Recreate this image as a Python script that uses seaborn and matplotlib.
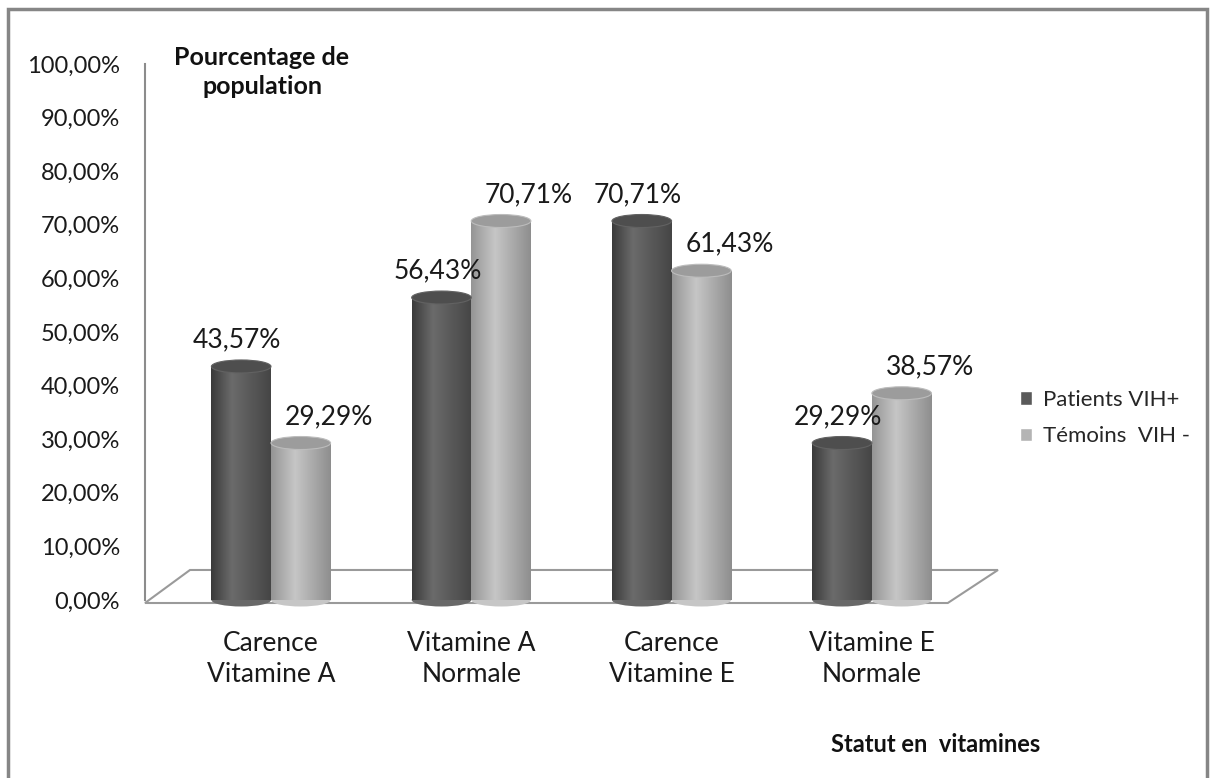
import pandas as pd
import numpy as np
import matplotlib
matplotlib.use("Agg")
import matplotlib.pyplot as plt
from matplotlib.patches import Ellipse, Polygon, Rectangle
from matplotlib.colors import LinearSegmentedColormap
from matplotlib.ticker import FuncFormatter, MultipleLocator
import seaborn as sns

# data
categories = ["Carence\nVitamine A", "Vitamine A\nNormale", "Carence\nVitamine E", "Vitamine E\nNormale"]
patients_vih = [0.4357, 0.5643, 0.7071, 0.2929]
temoins_vih = [0.2929, 0.7071, 0.6143, 0.3857]
series_names = ["Patients VIH+", "Témoins  VIH -"]

df = pd.DataFrame({
    "statut": categories * 2,
    "groupe": [series_names[0]] * 4 + [series_names[1]] * 4,
    "pct": patients_vih + temoins_vih,
})

def pct_fmt(v, pos=None):
    return f"{v * 100:.2f}%".replace(".", ",")

# --------------------------------- PLOTTING --------------------------------- #
sns.set_style("white")
plt.rcParams["font.family"] = ["Lato", "DejaVu Sans"]

fig = plt.figure(figsize=(12.16, 7.78), dpi=100)
ax = fig.add_axes([145 / 1216, 1 - 600 / 778, 815 / 1216, 536 / 778])

palette = {series_names[0]: "#5a5a5a", series_names[1]: "#b4b4b4"}
sns.barplot(data=df, x="statut", y="pct", hue="groupe", palette=palette,
            width=0.595, ax=ax, zorder=2, legend=True)

handles, labels = ax.get_legend_handles_labels()
ax.get_legend().remove()

# cylinder look: gradient body + elliptic caps
cmaps = [
    LinearSegmentedColormap.from_list("dk", [(0, "#3a3a3a"), (0.35, "#6b6b6b"), (1, "#454545")]),
    LinearSegmentedColormap.from_list("lt", [(0, "#959595"), (0.4, "#c6c6c6"), (1, "#8e8e8e")]),
]
cap_colors = ["#4e4e4e", "#9c9c9c"]
grad = np.linspace(0, 1, 256).reshape(1, -1)
eh = 13 / 536

for i, cont in enumerate(ax.containers):
    for bar in cont:
        x, w, h = bar.get_x(), bar.get_width(), bar.get_height()
        bar.set_edgecolor("none")
        im = ax.imshow(grad, cmap=cmaps[i], extent=[x, x + w, 0, h], aspect="auto", zorder=2.1)
        im.set_clip_path(bar)
        ax.add_patch(Ellipse((x + w / 2, 0), w, eh, facecolor=cmaps[i](0.4), edgecolor="none",
                             zorder=1.9, clip_on=False))
        ax.add_patch(Ellipse((x + w / 2, h), w, eh, facecolor=cap_colors[i], edgecolor=cmaps[i](0.5),
                             lw=0.8, zorder=2.5))
        dx = -4 if i == 0 else 28
        ax.annotate(pct_fmt(h), (x + w / 2, h), xytext=(dx, 14), textcoords="offset pixels",
                    ha="center", va="bottom", fontsize=19, color="#1a1a1a")

ax.set_xlim(-0.629, 3.44)
ax.set_ylim(0, 1.0)
ax.yaxis.set_major_locator(MultipleLocator(0.1))
ax.yaxis.set_major_formatter(FuncFormatter(pct_fmt))
ax.tick_params(axis="y", length=0, pad=18, labelsize=17, labelcolor="#1a1a1a")
ax.tick_params(axis="x", length=0, pad=22, labelsize=19, labelcolor="#1a1a1a")
for lab in ax.get_xticklabels():
    lab.set_linespacing(1.3)
ax.set_xlabel("")
ax.set_ylabel("")
for s in ["top", "right", "bottom"]:
    ax.spines[s].set_visible(False)
ax.spines["left"].set_color("#8c8c8c")
ax.spines["left"].set_linewidth(1.5)

# 3D-like floor
floor = Polygon([(0, -0.0056), (0.0552, 0.0560), (1.0466, 0.0560), (0.985, -0.0056)],
                closed=True, transform=ax.transAxes, facecolor="white", edgecolor="#9a9a9a",
                lw=1.5, clip_on=False, zorder=0.5)
ax.add_patch(floor)

fig.text(262 / 1216, 1 - 72 / 778, "Pourcentage de\npopulation", ha="center", va="center",
         fontsize=18, fontweight="bold", linespacing=1.3, color="#111111")
fig.text(936 / 1216, 1 - 745 / 778, "Statut en  vitamines", ha="center", va="center",
         fontsize=17, fontweight="bold", color="#111111")

fig.legend(handles, labels, loc="center left", bbox_to_anchor=(1000 / 1216, 1 - 418 / 778),
           frameon=False, fontsize=16, handlelength=0.55, handleheight=0.55, handletextpad=0.5,
           labelspacing=0.75)

# chart border
fig.patches.append(Rectangle((8 / 1216, -0.02), 1199 / 1216, 1 - 9 / 778 + 0.02, transform=fig.transFigure,
                             fill=False, edgecolor="#868686", lw=2.5, zorder=10))

plt.savefig("out.png", dpi=100)
